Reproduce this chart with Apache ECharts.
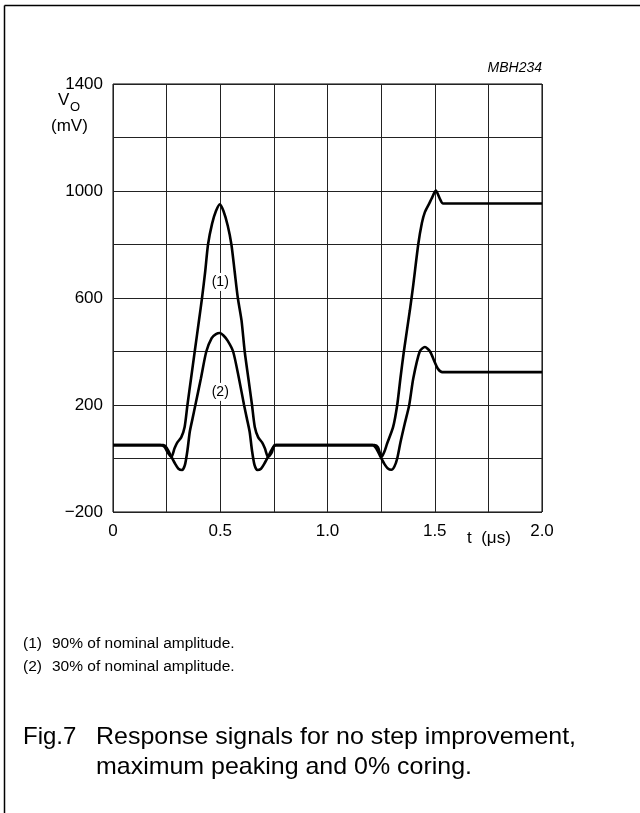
<!DOCTYPE html>
<html>
<head>
<meta charset="utf-8">
<script src="https://cdn.jsdelivr.net/npm/echarts@6/dist/echarts.min.js"></script>
<style>
  html, body { margin: 0; padding: 0; background: #fff; }
  #chart { width: 640px; height: 813px; }
</style>
</head>
<body>
<div id="chart"></div>
<script>
// curve (1): 90% of nominal amplitude, t in us / Vo in mV
var t1 = [0, 0.22, 0.24, 0.255, 0.272, 0.287, 0.30, 0.318, 0.334, 0.347, 0.364, 0.381, 0.401, 0.415, 0.43, 0.443, 0.462, 0.48, 0.498,
  0.515, 0.535, 0.552, 0.567, 0.582, 0.599, 0.614, 0.631, 0.648, 0.661, 0.677, 0.695, 0.708, 0.723, 0.74, 0.755,
  1.22, 1.235, 1.252, 1.265, 1.278, 1.306, 1.325, 1.34, 1.356, 1.384, 1.40, 1.423, 1.44, 1.454, 1.474, 1.485, 1.505, 1.524, 1.539, 2.0];
var v1 = [50, 50, 44, 22, 6, 38, 60, 79, 118, 200, 300, 400, 517, 600, 700, 800, 878, 925, 950,
  925, 870, 800, 700, 600, 517, 400, 300, 200, 118, 79, 60, 38, 6, 22, 50,
  50, 42, 6, 25, 56, 118, 200, 300, 400, 554, 650, 800, 880, 921, 953, 971, 1002, 971, 953, 953];

// curve (2): 30% of nominal amplitude
var t2 = [0, 0.235, 0.25, 0.27, 0.29, 0.305, 0.322, 0.335, 0.347, 0.358, 0.371, 0.384, 0.41, 0.435, 0.46, 0.48, 0.498,
  0.515, 0.535, 0.56, 0.587, 0.611, 0.624, 0.637, 0.648, 0.66, 0.673, 0.69, 0.705, 0.725, 0.745, 0.76,
  1.21, 1.225, 1.245, 1.265, 1.28, 1.298, 1.312, 1.325, 1.34, 1.36, 1.381, 1.40, 1.43, 1.454, 1.478, 1.50, 1.515, 1.535, 2.0];
var v2 = [50, 50, 40, 10, -20, -38, -43, -25, 30, 100, 150, 200, 300, 400, 450, 465, 469,
  460, 440, 400, 300, 200, 150, 100, 30, -25, -43, -38, -20, 10, 40, 50,
  50, 40, 10, -20, -36, -42, -30, 0, 60, 130, 200, 300, 400, 417, 400, 360, 335, 323, 323];

var yTicks = [-200, 200, 600, 1000, 1400];
var xTicks = [0, 0.5, 1.0, 1.5, 2.0];

var noteNums = ['(1)', '(2)'];
var noteTexts = ['90% of nominal amplitude.', '30% of nominal amplitude.'];
var figNo = 'Fig.7';
var captionLines = ['Response signals for no step improvement,', 'maximum peaking and 0% coring.'];

function pairs(t, v) {
  return t.map(function (x, i) { return [x, v[i]]; });
}

var font = '"Liberation Sans", Arial, Helvetica, sans-serif';
var capFont = '24px ' + font;
var noteFont = '15.5px ' + font;

function txt(str, x, y, f, sx) {
  return { type: 'text', x: x, y: y, scaleX: sx || 1, style: { text: str, font: f, fill: '#000' } };
}

var chart = echarts.init(document.getElementById('chart'));

var graphics = [
  // frame
  { type: 'line', shape: { x1: 4.5, y1: 5.5, x2: 640, y2: 5.5 }, style: { stroke: '#000', lineWidth: 1.5 } },
  { type: 'line', shape: { x1: 4.5, y1: 5.5, x2: 4.5, y2: 813 }, style: { stroke: '#000', lineWidth: 1.5 } },
  { type: 'text', right: 98, top: 61, style: { text: 'MBH234', font: 'italic 14px ' + font, fill: '#000' } },
  txt('V', 58, 92, '17px ' + font),
  txt('O', 70, 101, '13px ' + font),
  txt('(mV)', 51, 118, '17px ' + font),
  txt('t  (\u03bcs)', 467, 530, '17px ' + font),
  txt(noteNums[0], 23, 636, noteFont),
  txt(noteTexts[0], 52, 636, noteFont),
  txt(noteNums[1], 23, 659, noteFont),
  txt(noteTexts[1], 52, 659, noteFont),
  txt(figNo, 23, 725, capFont),
  txt(captionLines[0], 96, 725, capFont, 1.04),
  txt(captionLines[1], 96, 755, capFont, 1.04)
];

var option = {
  animation: false,
  backgroundColor: '#fff',
  grid: {
    left: 113, top: 84, width: 429, height: 428,
    show: true, borderColor: '#000', borderWidth: 1
  },
  xAxis: {
    type: 'value', min: 0, max: 2, interval: 0.25,
    axisLine: { show: false },
    axisTick: { show: false },
    splitLine: { show: true, lineStyle: { color: '#222', width: 1 } },
    axisLabel: {
      color: '#000', fontFamily: font, fontSize: 17, margin: 11,
      formatter: function (v) {
        var hit = xTicks.filter(function (x) { return Math.abs(x - v) < 1e-6; });
        if (!hit.length) return '';
        return v === 0 ? '0' : v.toFixed(1);
      }
    }
  },
  yAxis: {
    type: 'value', min: -200, max: 1400, interval: 200,
    axisLine: { show: false },
    axisTick: { show: false },
    splitLine: { show: true, lineStyle: { color: '#222', width: 1 } },
    axisLabel: {
      color: '#000', fontFamily: font, fontSize: 17, margin: 10,
      formatter: function (v) {
        if (yTicks.indexOf(v) < 0) return '';
        return v < 0 ? '\u2212' + (-v) : String(v);
      }
    }
  },
  series: [
    {
      name: '(1)', type: 'line', data: pairs(t1, v1), showSymbol: false, smooth: 0.25,
      lineStyle: { color: '#000', width: 2.6 },
      markPoint: {
        symbol: 'rect', symbolSize: 0,
        data: [{ coord: [0.5, 660] }],
        label: {
          show: true, formatter: '(1)', position: 'inside', color: '#000', fontFamily: font, fontSize: 14,
          backgroundColor: '#fff', padding: [2, 1]
        }
      }
    },
    {
      name: '(2)', type: 'line', data: pairs(t2, v2), showSymbol: false, smooth: 0.25,
      lineStyle: { color: '#000', width: 2.6 },
      markPoint: {
        symbol: 'rect', symbolSize: 0,
        data: [{ coord: [0.5, 249] }],
        label: {
          show: true, formatter: '(2)', position: 'inside', color: '#000', fontFamily: font, fontSize: 14,
          backgroundColor: '#fff', padding: [2, 1]
        }
      }
    }
  ],
  graphic: graphics
};

chart.setOption(option);
</script>
</body>
</html>
